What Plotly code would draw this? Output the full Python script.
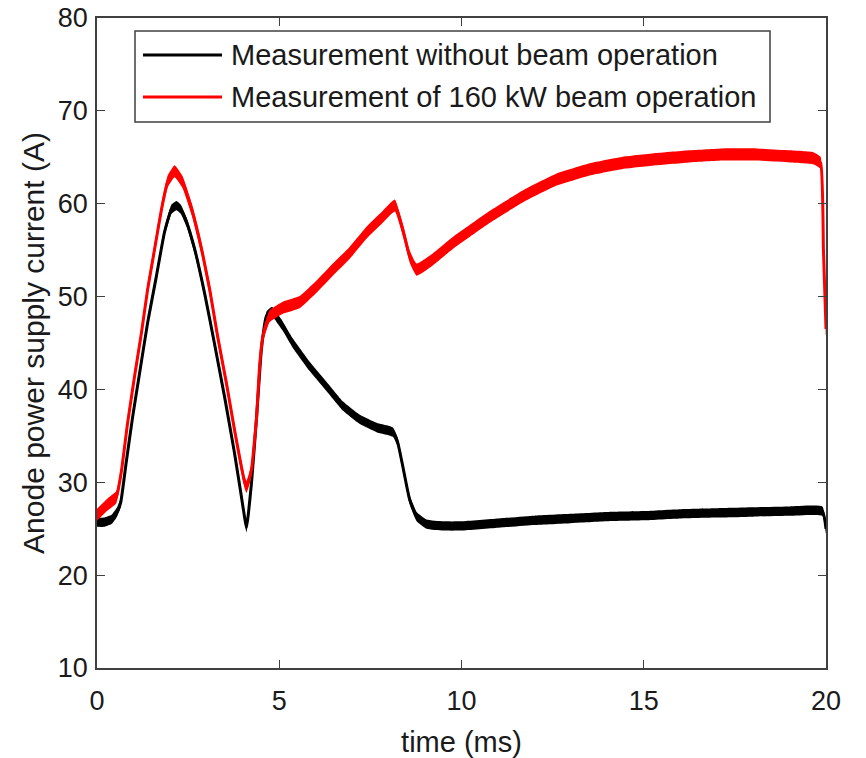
import plotly.graph_objects as go

# Anode power supply current, time in ms, current in A
t_no_beam = [0, 0.2, 0.4, 0.55, 0.65, 0.8, 0.98, 1.17, 1.39, 1.63, 1.85, 2.04, 2.18, 2.3,
             2.46, 2.68, 2.95, 3.22, 3.5, 3.77, 3.96, 4.05, 4.1, 4.15, 4.24, 4.38, 4.51,
             4.65, 4.8, 4.92, 5.1, 5.37, 5.83, 6.3, 6.75, 7.2, 7.67, 8.12, 8.25, 8.39,
             8.58, 8.77, 9.04, 9.5, 10.0, 11.0, 12.0, 13.0, 14.0, 15.0, 16.0, 17.0, 18.0,
             19.0, 19.9, 20.0]
i_no_beam = [25.7, 25.7, 26.0, 26.8, 27.8, 32.1, 37.1, 41.8, 47.2, 52.2, 56.9, 59.4, 59.8,
             59.4, 58.0, 55.1, 50.4, 45.0, 39.2, 33.2, 28.5, 26.2, 25.1, 26.5, 30.0, 37.1,
             44.3, 47.9, 48.4, 47.8, 46.8, 45.0, 42.5, 40.3, 38.2, 36.8, 35.9, 35.4, 34.3,
             31.7, 28.1, 26.3, 25.5, 25.3, 25.3, 25.6, 25.9, 26.1, 26.3, 26.4, 26.6, 26.7,
             26.8, 26.9, 26.9, 25.0]

t_beam = [0, 0.29, 0.53, 0.67, 0.84, 1.03, 1.22, 1.39, 1.58, 1.77, 1.94, 2.13, 2.35, 2.6,
          2.87, 3.09, 3.31, 3.55, 3.77, 3.96, 4.05, 4.1, 4.15, 4.24, 4.38, 4.46, 4.55, 4.74,
          5.1, 5.56, 6.03, 6.47, 6.93, 7.4, 7.84, 8.17, 8.39, 8.58, 8.77, 9.21, 9.77, 10.78,
          11.69, 12.61, 13.52, 14.43, 15.35, 16.26, 17.18, 18.09, 19.0, 19.65, 19.85, 19.93,
          20.0]
i_beam = [26.5, 27.6, 28.4, 31.2, 36.4, 41.4, 46.1, 50.8, 55.1, 59.4, 62.4, 63.5, 62.3,
          59.4, 55.1, 50.8, 45.7, 40.7, 35.7, 31.7, 30.0, 29.5, 30.0, 31.4, 37.1, 42.5, 45.7,
          47.9, 48.8, 49.4, 51.1, 52.9, 54.7, 56.9, 58.6, 59.8, 57.2, 54.3, 52.9, 54.0, 55.8,
          58.6, 60.8, 62.6, 63.7, 64.4, 64.8, 65.1, 65.3, 65.3, 65.1, 64.9, 64.4, 55.0, 46.5]

legend_labels = ["Measurement without beam operation",
                 "Measurement of 160 kW beam operation"]
x_ticks = [0, 5, 10, 15, 20]
y_ticks = [10, 20, 30, 40, 50, 60, 70, 80]

FONT = "Liberation Sans, Arial, Helvetica, sans-serif"
TXT = "#1a1a1a"
AX = "#404040"

# plot area in pixels
W, H = 866, 758
L, R, T, B = 97, 40, 18, 90
PW, PH = W - L - R, H - T - B


def px_x(px):
    return (px - L) / PW


def px_y(py):
    return (H - B - py) / PH


fig = go.Figure()


def add_signal(t, i, color, half_band, width):
    # noise band of the sampled signal, then its centre line
    upper = [v + half_band for v in i]
    lower = [v - half_band for v in i]
    fig.add_trace(go.Scatter(
        x=t + t[::-1], y=upper + lower[::-1], fill="toself", fillcolor=color,
        line=dict(width=0, shape="spline", smoothing=0.4), mode="lines",
        hoverinfo="skip", showlegend=False))
    fig.add_trace(go.Scatter(
        x=t, y=i, mode="lines",
        line=dict(color=color, width=width, shape="spline", smoothing=0.4),
        showlegend=False))


add_signal(t_no_beam, i_no_beam, "#000000", 0.5, 3)
add_signal(t_beam, i_beam, "#ff0000", 0.65, 3)

fig.update_xaxes(
    range=[0, 20], tickvals=x_ticks, ticks="inside", ticklen=8, tickwidth=1.3,
    tickcolor=AX, showline=True, linecolor=AX, linewidth=1.6, mirror="allticks",
    showgrid=False, zeroline=False, ticklabelstandoff=8, automargin=False,
    tickfont=dict(family=FONT, size=27, color=TXT),
    title=dict(text="time (ms)", font=dict(family=FONT, size=29, color=TXT), standoff=18))
fig.update_yaxes(
    range=[10, 80], tickvals=y_ticks, ticks="inside", ticklen=8, tickwidth=1.3,
    tickcolor=AX, showline=True, linecolor=AX, linewidth=1.6, mirror="allticks",
    showgrid=False, zeroline=False, ticklabelstandoff=2, automargin=False,
    tickfont=dict(family=FONT, size=27, color=TXT),
    title=dict(text="Anode power supply current (A)",
               font=dict(family=FONT, size=30, color=TXT), standoff=4))

# legend box with line samples
fig.add_shape(type="rect", xref="paper", yref="paper",
              x0=px_x(135), x1=px_x(770), y0=px_y(122), y1=px_y(31),
              line=dict(color=AX, width=1.5), fillcolor="white", layer="above")
for k, (label, color) in enumerate(zip(legend_labels, ["#000000", "#ff0000"])):
    yy = px_y(55 + 42 * k)
    fig.add_shape(type="line", xref="paper", yref="paper",
                  x0=px_x(143), x1=px_x(222), y0=yy, y1=yy,
                  line=dict(color=color, width=3), layer="above")
    fig.add_annotation(xref="paper", yref="paper", x=px_x(229), y=yy,
                       xanchor="left", yanchor="middle", text=label, showarrow=False,
                       font=dict(family=FONT, size=29, color=TXT))

fig.update_layout(
    width=W, height=H, margin=dict(l=L, r=R, t=T, b=B),
    paper_bgcolor="white", plot_bgcolor="white", showlegend=False)

fig.write_html("out.html")
